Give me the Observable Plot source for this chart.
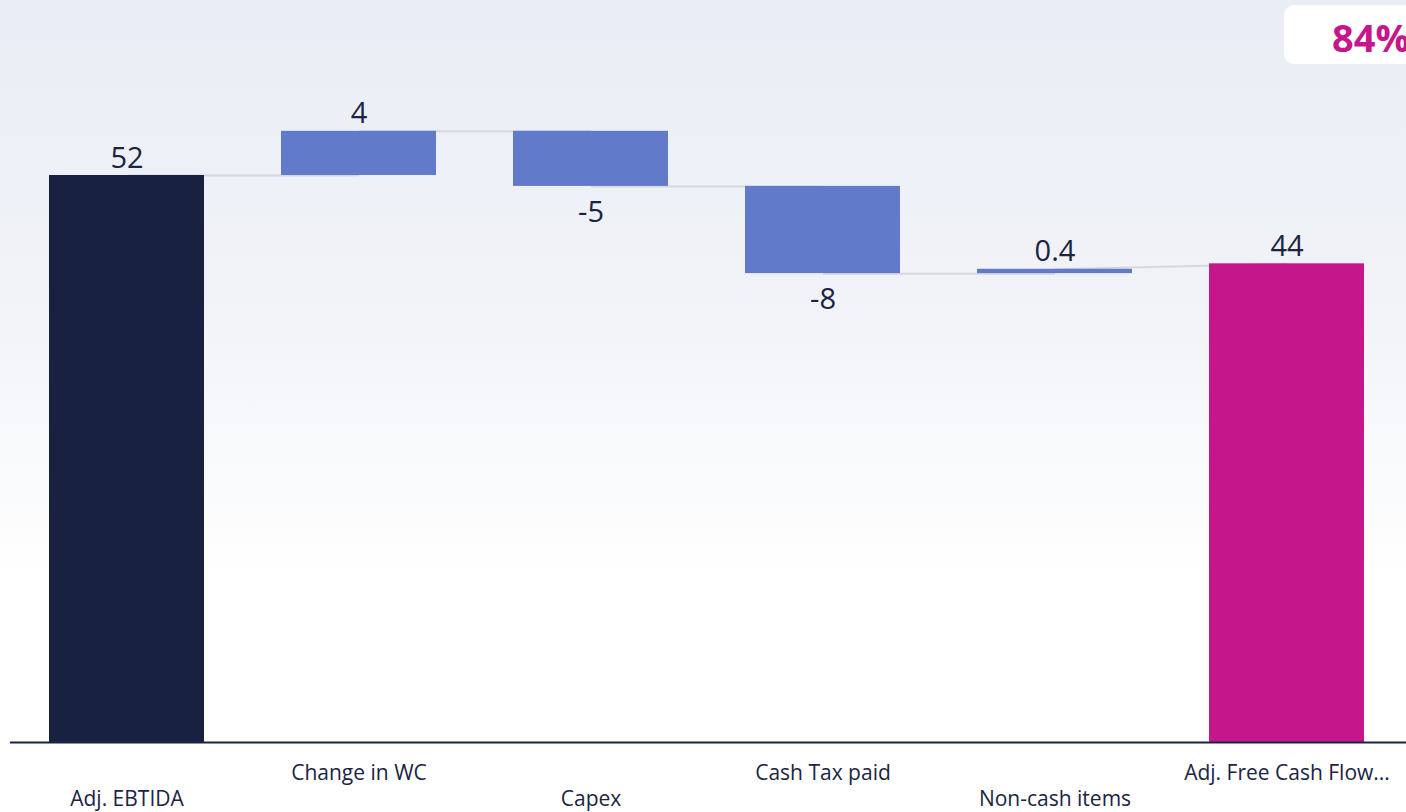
<!DOCTYPE html>
<html>
<head>
<meta charset="utf-8">
<script src="https://cdn.jsdelivr.net/npm/d3@7"></script>
<script src="https://cdn.jsdelivr.net/npm/@observablehq/plot@0.6"></script>
<style>
  html, body { margin: 0; padding: 0; width: 1406px; height: 812px; overflow: hidden; }
  body {
    position: relative;
    background: linear-gradient(to bottom, #e9edf5 0px, #f1f3f8 300px, #ffffff 580px, #ffffff 812px);
    font-family: "Open Sans", "Noto Sans", sans-serif;
  }
  #chart { position: absolute; left: 0; top: 0; }
  #badge {
    position: absolute; left: 1284px; top: 5px; width: 160px; height: 59px;
    background: #ffffff; border-radius: 10px;
  }
  #badge span {
    position: absolute; left: 48px; top: 6px;
    font-family: "Open Sans", sans-serif; font-weight: 700; font-size: 38px; color: #c5168c;
  }
</style>
</head>
<body>
<div id="chart"></div>
<div id="badge"><span>84%</span></div>
<script>
const categories = ["Adj. EBTIDA", "Change in WC", "Capex", "Cash Tax paid", "Non-cash items", "Adj. Free Cash Flow..."];
const values = [52, 4.05, -5.05, -8, 0.4, 43.9];
const kinds = ["total", "delta", "delta", "delta", "delta", "total"];
const colors = {start: "#18213f", delta: "#627aca", end: "#c5168c"};
const badgeText = "84%";

// build waterfall table
let running = 0;
const rows = categories.map((c, i) => {
  const v = values[i];
  let y1, y2, end;
  if (kinds[i] === "total") { y1 = 0; y2 = v; end = v; }
  else { y1 = running; y2 = running + v; end = running + v; }
  const start = kinds[i] === "total" ? v : running;
  running = end;
  const fill = kinds[i] === "delta" ? colors.delta : (i === 0 ? colors.start : colors.end);
  const label = Math.abs(v) >= 1 ? String(Math.round(v)) : v.toFixed(1);
  return {cat: c, i, v, y1, y2, start, end, fill, label, top: Math.max(y1, y2), bottom: Math.min(y1, y2)};
});
const links = rows.slice(0, -1).map((r, i) => ({
  a: r.cat, b: rows[i + 1].cat, ya: r.end, yb: rows[i + 1].start
}));
const oddCats = categories.filter((d, i) => i % 2 === 1);
const evenCats = categories.filter((d, i) => i % 2 === 0);
const textColor = "#1b2442";

const chart = Plot.plot({
  width: 1406,
  height: 812,
  marginLeft: 10,
  marginRight: 0,
  marginTop: 0,
  marginBottom: 70,
  style: {background: "transparent", fontFamily: "'Open Sans', 'Noto Sans', sans-serif", color: textColor},
  x: {domain: categories, range: [10.5, 1402.5], paddingInner: 0.332, paddingOuter: 0.166, axis: null},
  y: {domain: [0, 68.05], axis: null},
  marks: [
    Plot.link(links, {x1: "a", x2: "b", y1: "ya", y2: "yb", stroke: "#d6d8dc", strokeWidth: 2}),
    Plot.barY(rows, {x: "cat", y1: "y1", y2: "y2", fill: "fill"}),
    Plot.text(rows.filter(r => r.v >= 0), {x: "cat", y: "top", text: "label", lineAnchor: "bottom", dy: -8, fontSize: 29, fill: textColor}),
    Plot.text(rows.filter(r => r.v < 0), {x: "cat", y: "bottom", text: "label", lineAnchor: "top", dy: 15, fontSize: 29, fill: textColor}),
    Plot.ruleY([0], {stroke: "#1b2442", strokeWidth: 2}),
    Plot.axisX(oddCats, {tickSize: 0, tickPadding: 23, fontSize: 21, fill: textColor, label: null}),
    Plot.axisX(evenCats, {tickSize: 0, tickPadding: 49, fontSize: 21, fill: textColor, label: null})
  ]
});
document.getElementById("chart").appendChild(chart);
document.querySelector("#badge span").textContent = badgeText;
</script>
</body>
</html>
